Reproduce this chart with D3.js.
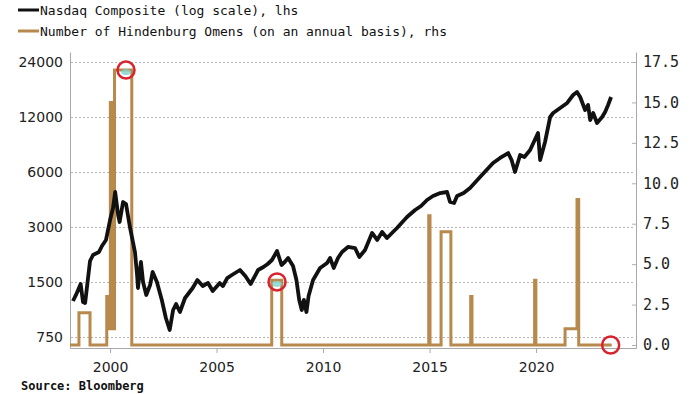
<!DOCTYPE html>
<html>
<head>
<meta charset="utf-8">
<script src="https://cdn.jsdelivr.net/npm/d3@7"></script>
<style>
body { margin: 0; background: #fff; }
svg { display: block; }
</style>
</head>
<body>
<script>
// Nasdaq
const nasdaqYears = [
  1998.26, 1998.40, 1998.62, 1998.73, 1998.83, 1999.06, 1999.20, 1999.48, 1999.62, 1999.81,
  2000.00, 2000.14, 2000.24, 2000.38, 2000.45, 2000.61, 2000.75, 2000.94, 2001.17, 2001.27,
  2001.31, 2001.45, 2001.55, 2001.70, 2001.88, 2002.00, 2002.20, 2002.43, 2002.62, 2002.80,
  2002.96, 2003.10, 2003.28, 2003.52, 2003.88, 2004.10, 2004.35, 2004.60, 2004.82, 2005.15,
  2005.30, 2005.50, 2005.72, 2006.10, 2006.35, 2006.60, 2006.95, 2007.20, 2007.40, 2007.60,
  2007.84, 2008.05, 2008.20, 2008.36, 2008.59, 2008.75, 2008.88, 2009.00, 2009.10, 2009.22,
  2009.32, 2009.53, 2009.86, 2010.19, 2010.33, 2010.50, 2010.70, 2010.89, 2011.17, 2011.50,
  2011.70, 2011.97, 2012.30, 2012.54, 2012.77, 2013.00, 2013.47, 2013.94, 2014.32, 2014.60,
  2014.88, 2015.16, 2015.50, 2015.82, 2015.96, 2016.15, 2016.29, 2016.60, 2016.90, 2017.37,
  2017.98, 2018.31, 2018.69, 2018.85, 2019.01, 2019.25, 2019.45, 2019.72, 2020.09, 2020.19,
  2020.42, 2020.66, 2020.80, 2021.13, 2021.46, 2021.74, 2021.92, 2022.07, 2022.30, 2022.44,
  2022.54, 2022.68, 2022.86, 2023.10, 2023.24, 2023.38, 2023.52
];
const nasdaqValues = [
  1181, 1274, 1463, 1166, 1151, 1954, 2108, 2189, 2362, 2547,
  3276, 3811, 4663, 3490, 3195, 4111, 4010, 2963, 2189, 1638,
  1391, 1930, 1500, 1274, 1444, 1702, 1500, 1196, 953, 819,
  1054, 1137, 1028, 1226, 1391, 1538, 1426, 1481, 1339, 1481,
  1426, 1577, 1638, 1745, 1618, 1463, 1745, 1812, 1882, 1979,
  2217, 1858, 1930, 2030, 1835, 1538, 1196, 1054, 1196, 1028,
  1257, 1538, 1790, 1906, 2030, 1790, 2030, 2189, 2332, 2302,
  2056, 2245, 2782, 2547, 2817, 2612, 2963, 3404, 3716, 3909,
  4216, 4434, 4604, 4663, 4111, 4060, 4434, 4604, 4905, 5633,
  6722, 7159, 7622, 6980, 6000, 7433, 7249, 7917, 9809, 6980,
  8757, 12000, 12620, 13440, 14318, 15834, 16446, 15440, 13103, 13960,
  11552, 12620, 11126, 12000, 12780, 13960, 15440
];

// omen count, step series on the rhs axis
const omenYears = [
  1998.12, 1998.54, 1999.06, 1999.845, 1999.89, 1999.93, 1999.967, 2000.014, 2000.07, 2000.21,
  2001.02, 2007.59, 2008.06, 2014.96, 2015.02, 2015.54, 2016.0, 2016.93, 2016.99, 2019.93,
  2019.99, 2021.36, 2021.92, 2022.0, 2023.55
];
const omenCounts = [
  0, 2, 0, 3, 1, 3, 1, 15, 1, 17,
  0, 4, 0, 8, 0, 7, 0, 3, 0, 4,
  0, 1, 9, 0, 0
];

const leftTicks = [750, 1500, 3000, 6000, 12000, 24000];
const rightTicks = [0, 2.5, 5, 7.5, 10, 12.5, 15, 17.5];
const yearTicks = [2000, 2005, 2010, 2015, 2020];
const legendLabels = [
  'Nasdaq Composite (log scale), lhs',
  'Number of Hindenburg Omens (on an annual basis), rhs'
];
const markYears = [2000.75, 2007.84, 2023.5];
const markCounts = [17, 3.9, 0];
const sourceText = 'Source: Bloomberg';

class OmenChart {
  constructor() {
    this.width = 700;
    this.height = 394;
    this.left = 70;
    this.right = 636;
    this.top = 52;
    this.bottom = 348;
    this.black = '#111';
    this.tan = '#b8894d';

    this.x = d3.scaleLinear().domain([1998.12, 2024.69]).range([this.left, this.right]);
    this.yLeft = d3.scaleLog().base(2).domain([750, 24000]).range([337, 62]);
    this.yRight = d3.scaleLinear().domain([0, 17.5]).range([345, 62]);

    this.makeSvg();
    this.addAxes();
    this.addLines();
    this.addMarks();
    this.addLegend();
  }

  makeSvg () {
    this.svg = d3.select('body')
    .append('svg')
    .attr('width', this.width)
    .attr('height', this.height);

    this.svg.append('rect')
    .attr('width', this.width)
    .attr('height', this.height)
    .style('fill', '#fff');
  }

  addAxes () {
    const grid = this.svg.append('g');
    grid.selectAll('line')
    .data(leftTicks)
    .join('line')
    .attr('x1', this.left + 1)
    .attr('x2', this.right - 1)
    .attr('y1', d => Math.round(this.yLeft(d)) + 0.5)
    .attr('y2', d => Math.round(this.yLeft(d)) + 0.5)
    .style('stroke', '#b5b5b5')
    .style('stroke-dasharray', '2,2');

    // frame: left, right and bottom only
    const frame = [
      [this.left, this.top, this.left, this.bottom],
      [this.right, this.top, this.right, this.bottom],
      [this.left, this.bottom, this.right, this.bottom]
    ];
    this.svg.append('g')
    .selectAll('line')
    .data(frame)
    .join('line')
    .attr('x1', d => d[0] + 0.5)
    .attr('y1', d => d[1] + 0.5)
    .attr('x2', d => d[2] + 0.5)
    .attr('y2', d => d[3] + 0.5)
    .style('stroke', '#a8a8a8');

    const leftAxis = this.svg.append('g')
    .attr('transform', `translate(${this.left},0)`)
    .call(d3.axisLeft(this.yLeft).tickValues(leftTicks).tickFormat(d3.format('d')).tickSize(0).tickPadding(7));
    leftAxis.select('.domain').remove();
    leftAxis.selectAll('text')
    .attr('font-family', 'DejaVu Sans, Verdana, sans-serif')
    .attr('font-size', 14)
    .attr('fill', '#222');

    const rightAxis = this.svg.append('g')
    .attr('transform', `translate(${this.right},0)`)
    .call(d3.axisRight(this.yRight).tickValues(rightTicks).tickFormat(d3.format('.1f')).tickSize(-4).tickPadding(7));
    rightAxis.select('.domain').remove();
    rightAxis.selectAll('line').attr('stroke', '#b0b0b0');
    rightAxis.selectAll('text')
    .attr('font-family', 'DejaVu Sans Mono, monospace')
    .attr('font-size', 15)
    .attr('fill', '#222');

    const bottomAxis = this.svg.append('g')
    .attr('transform', `translate(0,${this.bottom})`)
    .call(d3.axisBottom(this.x).tickValues(yearTicks).tickFormat(d3.format('d')).tickSize(5).tickPadding(9));
    bottomAxis.select('.domain').remove();
    bottomAxis.selectAll('line').attr('stroke', '#a8a8a8');
    bottomAxis.selectAll('text')
    .attr('font-family', 'DejaVu Sans, Verdana, sans-serif')
    .attr('font-size', 14)
    .attr('fill', '#222');
  }

  addLines () {
    const omenLine = d3.line()
    .x(d => this.x(d[0]))
    .y(d => this.yRight(d[1]))
    .curve(d3.curveStepAfter);

    this.svg.append('path')
    .datum(omenYears.map((yr, i) => [yr, omenCounts[i]]))
    .attr('d', omenLine)
    .style('fill', 'none')
    .style('stroke', this.tan)
    .style('stroke-width', 3);

    const nasdaqLine = d3.line()
    .x(d => this.x(d[0]))
    .y(d => this.yLeft(d[1]));

    this.svg.append('path')
    .datum(nasdaqYears.map((yr, i) => [yr, nasdaqValues[i]]))
    .attr('d', nasdaqLine)
    .style('fill', 'none')
    .style('stroke', this.black)
    .style('stroke-width', 3.8)
    .style('stroke-linejoin', 'round');
  }

  addMarks () {
    const marks = markYears.map((yr, i) => [yr, markCounts[i]]);
    const g = this.svg.append('g');

    g.selectAll('ellipse')
    .data(marks.slice(0, 2))
    .join('ellipse')
    .attr('cx', d => this.x(d[0]))
    .attr('cy', d => this.yRight(d[1]) + 2)
    .attr('rx', 5)
    .attr('ry', 3)
    .style('fill', '#7fd3cc')
    .style('opacity', 0.8);

    g.selectAll('circle')
    .data(marks)
    .join('circle')
    .attr('cx', d => this.x(d[0]))
    .attr('cy', d => this.yRight(d[1]))
    .attr('r', 8.5)
    .style('fill', 'none')
    .style('stroke', '#d8232f')
    .style('stroke-width', 2.5);
  }

  addLegend () {
    const colors = [this.black, this.tan];
    const rows = this.svg.append('g')
    .selectAll('g')
    .data(legendLabels)
    .join('g')
    .attr('transform', (d, i) => `translate(18,${10 + i * 21})`);

    rows.append('line')
    .attr('x1', 0)
    .attr('x2', 21)
    .style('stroke', (d, i) => colors[i])
    .style('stroke-width', 3);

    rows.append('text')
    .attr('x', 22)
    .attr('y', 4.5)
    .attr('font-family', 'DejaVu Sans Mono, monospace')
    .attr('font-size', 13)
    .attr('fill', '#111')
    .text(d => d);

    this.svg.append('text')
    .attr('x', 21)
    .attr('y', 390)
    .attr('font-family', 'DejaVu Sans Mono, monospace')
    .attr('font-size', 12)
    .attr('font-weight', 'bold')
    .attr('fill', '#111')
    .text(sourceText);
  }
}

new OmenChart();
</script>
</body>
</html>
